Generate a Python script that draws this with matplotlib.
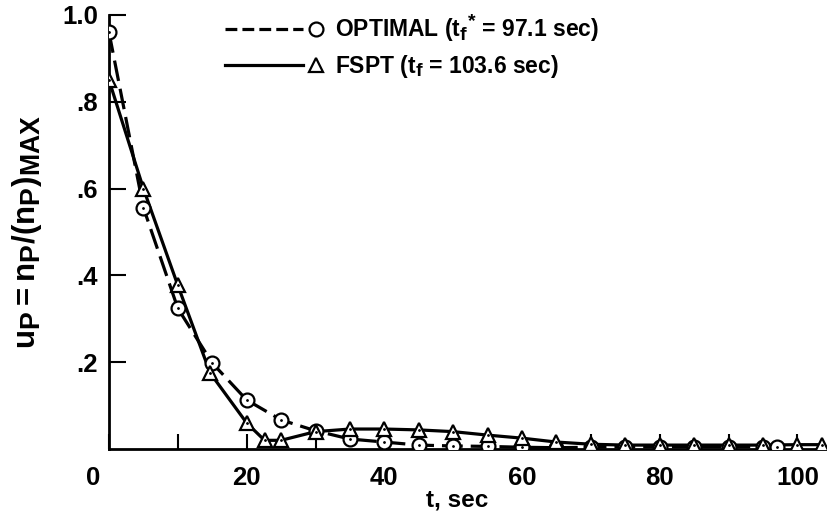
import numpy as np
import matplotlib.pyplot as plt
import matplotlib._mathtext as mathtext_internal
from matplotlib.lines import Line2D
from matplotlib.legend_handler import HandlerBase
import matplotlib.transforms as mtransforms

# OPTIMAL trajectory (circles, dashed)
t_opt = [0, 5, 10, 15, 20, 25, 30, 35, 40, 45, 50, 55, 60, 65, 70, 75, 80, 85, 90, 95, 97.1]
u_opt = [0.96, 0.556, 0.324, 0.198, 0.113, 0.067, 0.042, 0.023, 0.016, 0.009, 0.007, 0.006,
         0.004, 0.003, 0.004, 0.005, 0.005, 0.005, 0.005, 0.005, 0.005]

# FSPT trajectory (triangles, solid)
t_fspt = [0, 5, 10, 14.7, 20, 22.6, 25, 30, 35, 40, 45, 50, 55, 60, 65, 70, 75, 80, 85, 90, 95, 100, 103.6]
u_fspt = [0.85, 0.60, 0.377, 0.175, 0.06, 0.02, 0.02, 0.04, 0.046, 0.046, 0.044, 0.04, 0.032,
          0.025, 0.016, 0.011, 0.009, 0.009, 0.009, 0.009, 0.009, 0.01, 0.01]

x_ticks = [0, 20, 40, 60, 80, 100]
x_ticklabels = ['0', '20', '40', '60', '80', '100']
y_ticks = [0.2, 0.4, 0.6, 0.8, 1.0]
y_ticklabels = ['.2', '.4', '.6', '.8', '1.0']

plt.rcParams['font.family'] = ['Liberation Sans', 'DejaVu Sans']
plt.rcParams['font.weight'] = 'bold'
plt.rcParams['mathtext.fontset'] = 'custom'
plt.rcParams['mathtext.rm'] = 'Liberation Sans:bold'
plt.rcParams['mathtext.it'] = 'Liberation Sans:bold'
plt.rcParams['mathtext.bf'] = 'Liberation Sans:bold'
plt.rcParams['mathtext.default'] = 'rm'
# the original typesetting uses larger subscripts
mathtext_internal.SHRINK_FACTOR = 0.85


class EndMarkerHandler(HandlerBase):
    # line first, marker at the right end of the handle
    def create_artists(self, legend, orig, xd, yd, w, h, fontsize, trans):
        y = h / 2 - yd
        ln = Line2D([-xd, -xd + w * 0.86], [y, y], color='black',
                    lw=orig.get_linewidth(), linestyle=orig.get_linestyle())
        mk = Line2D([-xd + w], [y], marker=orig.get_marker(), markersize=orig.get_markersize(),
                    markerfacecolor='white', markeredgecolor='black',
                    markeredgewidth=orig.get_markeredgewidth(), linestyle='none')
        ln.set_transform(trans)
        mk.set_transform(trans)
        return [ln, mk]


fig = plt.figure(figsize=(8.27, 5.16), dpi=100)
ax = fig.add_axes([109 / 827, 67 / 516, 720 / 827, 434 / 516])

dash = (0, (6.5, 2.5))
ax.plot(t_opt, u_opt, color='black', lw=2.3, linestyle=dash, zorder=2)
ax.plot(t_fspt, u_fspt, color='black', lw=2.3, zorder=2)
ax.plot(t_opt, u_opt, marker='o', markersize=10, markerfacecolor='white',
        markeredgecolor='black', markeredgewidth=1.6, linestyle='none', zorder=3)
ax.plot(t_fspt, u_fspt, marker='^', markersize=10, markerfacecolor='white',
        markeredgecolor='black', markeredgewidth=1.6, linestyle='none', zorder=4)
ax.plot(t_opt, u_opt, linestyle='none', marker='.', markersize=2, color='black', zorder=3.5)
ax.plot(t_fspt, u_fspt, linestyle='none', marker='.', markersize=2, color='black', zorder=4.5)

ax.set_xlim(0, 104.6)
ax.set_ylim(0, 1.0)
for side in ['top', 'right']:
    ax.spines[side].set_visible(False)
for side in ['left', 'bottom']:
    ax.spines[side].set_linewidth(2)

ax.set_xticks(x_ticks)
ax.set_xticklabels(x_ticklabels)
ax.set_xticks(np.arange(10, 101, 20), minor=True)
ax.set_yticks(y_ticks)
ax.set_yticklabels(y_ticklabels)
ax.tick_params(axis='x', which='both', direction='in', length=11, width=1.5, pad=12, labelsize=18.5)
ax.tick_params(axis='y', direction='in', length=12, width=1.5, pad=8, labelsize=18.5)
lbl0 = ax.get_xticklabels()[0]
lbl0.set_transform(lbl0.get_transform() + mtransforms.ScaledTranslation(-0.16, 0, fig.dpi_scale_trans))

ax.set_xlabel('t, sec', fontsize=17.5, fontweight='bold')
ax.xaxis.set_label_coords(0.483, -0.09)
ax.set_ylabel(r'$u_P = n_P/(n_P)_{MAX}$', fontsize=22.5)
ax.yaxis.set_label_coords(-0.09, 0.5)

line_a = Line2D([], [], color='black', lw=2.3, linestyle=dash, marker='o', markersize=10, markeredgewidth=1.6)
line_b = Line2D([], [], color='black', lw=2.3, marker='^', markersize=10, markeredgewidth=1.6)
ax.legend([line_a, line_b],
          [r'OPTIMAL ($t_f{}^{*}$ = 97.1 sec)', r'FSPT ($t_f$ = 103.6 sec)'],
          handler_map={line_a: EndMarkerHandler(), line_b: EndMarkerHandler()},
          loc='upper left', bbox_to_anchor=(0.133, 1.055), frameon=False,
          handlelength=3.95, handletextpad=0.85, labelspacing=0.4, prop={'weight': 'bold', 'size': 16.5})

fig.savefig('out.png', dpi=100)
